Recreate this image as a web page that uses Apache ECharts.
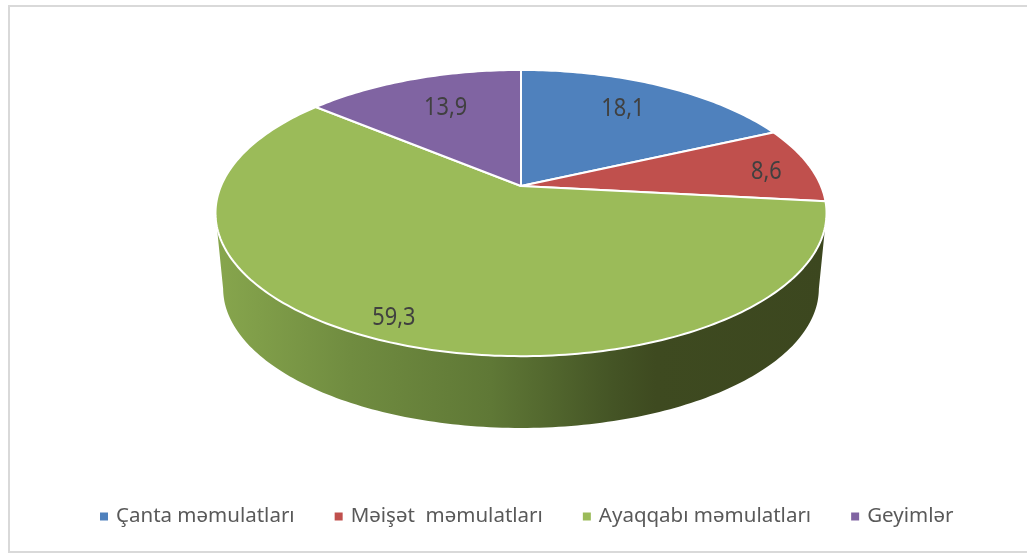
<!DOCTYPE html>
<html>
<head>
<meta charset="utf-8">
<script src="https://cdn.jsdelivr.net/npm/echarts@6/dist/echarts.min.js"></script>
<style>
html,body{margin:0;padding:0;background:#fff}
#chart{width:1027px;height:554px}
</style>
</head>
<body>
<div id="chart"></div>
<script>
var categories = ['Çanta məmulatları', 'Məişət  məmulatları', 'Ayaqqabı məmulatları', 'Geyimlər'];
var values = [18.1, 8.6, 59.3, 13.9];
var valueLabels = ['18,1', '8,6', '59,3', '13,9'];
var colors = ['#4F81BD', '#C0504D', '#9BBB59', '#8064A2'];

// label placement: fraction of the radius, then a small vertical nudge
var labelRadius = [0.70, 0.85, 0.91, 0.66];
var labelNudge = [-4, 4, -5, -4];

// perspective disc, fitted to the picture
var cx = 521, cy = 186, rx = 300, ry = 138, persp = 0.189;
var depthDrop = 76, depthScale = 0.975;
var sideFrom = 101, sideTo = 259;

var total = values.reduce(function (a, b) { return a + b; }, 0);

function project(deg, r, lower) {
    var a = deg * Math.PI / 180;
    var u = Math.sin(a) * r, v = -Math.cos(a) * r;
    var w = 1 - persp * v;
    var s = lower ? depthScale : 1;
    return [cx + s * rx * u / w, cy + (lower ? depthDrop : 0) + s * ry * v / w];
}

function arc(from, to, lower) {
    var pts = [];
    var n = Math.max(2, Math.ceil(Math.abs(to - from)));
    for (var i = 0; i <= n; i++) {
        pts.push(project(from + (to - from) * i / n, 1, lower));
    }
    return pts;
}

function sliceRenderer(index) {
    var start = 0;
    for (var i = 0; i < index; i++) start += values[i];
    return function (params, api) {
        var from = start / total * 360;
        var to = (start + api.value(0)) / total * 360;
        var children = [];

        var a = Math.max(from, sideFrom), b = Math.min(to, sideTo);
        if (a < b) {
            children.push({
                type: 'polygon',
                z2: 1,
                shape: { points: arc(a, b, false).concat(arc(b, a, true)) },
                style: {
                    fill: new echarts.graphic.LinearGradient(216, 0, 827, 0, [
                        { offset: 0, color: '#87A64D' },
                        { offset: 0.22, color: '#708C40' },
                        { offset: 0.45, color: '#5F7836' },
                        { offset: 0.65, color: '#445425' },
                        { offset: 0.72, color: '#3E4A20' },
                        { offset: 1, color: '#3C471F' }
                    ], true)
                }
            });
        }

        children.push({
            type: 'polygon',
            z2: 2,
            shape: { points: [[cx, cy]].concat(arc(from, to, false)) },
            style: { fill: colors[index], stroke: '#fff', lineWidth: 2, lineJoin: 'round' }
        });

        var p = project((from + to) / 2, labelRadius[index], false);
        children.push({
            type: 'text',
            z2: 3,
            x: p[0],
            y: p[1] + labelNudge[index],
            scaleX: 0.87,
            style: {
                text: valueLabels[index],
                fill: '#404040',
                font: '25px "Noto Sans", sans-serif',
                align: 'center',
                verticalAlign: 'middle'
            }
        });
        return { type: 'group', children: children };
    };
}

var myChart = echarts.init(document.getElementById('chart'), null, { renderer: 'canvas' });

myChart.setOption({
    animation: false,
    backgroundColor: '#fff',
    legend: {
        data: categories,
        left: 95,
        top: 501,
        itemWidth: 8,
        itemHeight: 8,
        itemGap: 40,
        icon: 'rect',
        textStyle: {
            color: '#595959',
            fontSize: 20.5,
            fontFamily: '"Noto Sans", sans-serif',
            padding: [0, 0, 0, 3]
        }
    },
    graphic: [{
        type: 'rect',
        silent: true,
        z: -1,
        shape: { x: 9, y: 6, width: 1040, height: 546 },
        style: { fill: 'none', stroke: '#D9D9D9', lineWidth: 2 }
    }],
    series: categories.map(function (name, i) {
        return {
            name: name,
            type: 'custom',
            coordinateSystem: 'none',
            itemStyle: { color: colors[i] },
            renderItem: sliceRenderer(i),
            data: [{ name: name, value: values[i] }]
        };
    })
});
</script>
</body>
</html>
